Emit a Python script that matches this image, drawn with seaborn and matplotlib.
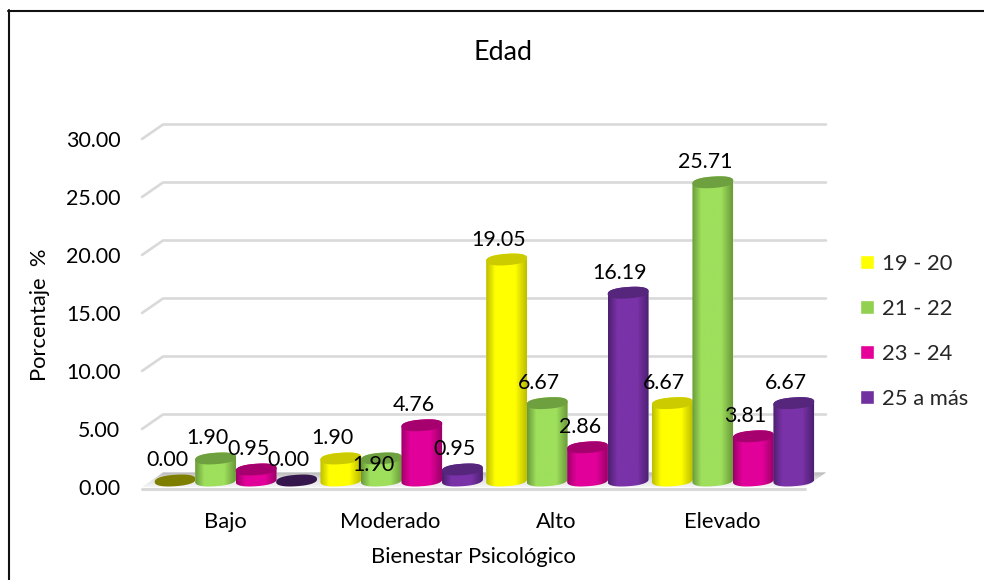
import numpy as np
import pandas as pd
import matplotlib
matplotlib.use("Agg")
import matplotlib.pyplot as plt
import seaborn as sns
from matplotlib.colors import LinearSegmentedColormap, to_rgb
from matplotlib.patches import PathPatch, Polygon
from matplotlib.path import Path
from matplotlib.transforms import ScaledTranslation, IdentityTransform

niveles = ["Bajo", "Moderado", "Alto", "Elevado"]
edades = ["19 - 20", "21 - 22", "23 - 24", "25 a más"]
pct_19_20 = [0.00, 1.90, 19.05, 6.67]
pct_21_22 = [1.90, 1.90, 6.67, 25.71]
pct_23_24 = [0.95, 4.76, 2.86, 3.81]
pct_25_mas = [0.00, 0.95, 16.19, 6.67]
y_ticks = [0, 5, 10, 15, 20, 25, 30]

colores = ["#FFFF00", "#92D050", "#E6009A", "#7030A0"]
# edge shade, centre shade and lid shade of each cylinder
sombra = ["#BDBD00", "#6A9A3A", "#9C0068", "#4C2070"]
centro = ["#FFFF00", "#9EDF5C", "#E2009A", "#7A32A8"]
tapa = ["#CBCB00", "#6FA03F", "#A6006F", "#56257C"]

W, H = 984, 580
DPI = 100
FUENTE = "Lato"
FS_DATOS = 15.4
FS_EJES = 15.8
FS_TITULO = 19.4

sns.set_theme(style="white")
plt.rcParams["font.family"] = [FUENTE, "DejaVu Sans"]

fig = plt.figure(figsize=(W / DPI, H / DPI), dpi=DPI, facecolor="white")


def axes_px(x0, x1, y_top, y_bottom):
    return fig.add_axes([x0 / W, 1 - y_bottom / H, (x1 - x0) / W, (y_bottom - y_top) / H])


# Outer chart frame: only the left and top sides fall on the canvas
for xs, ys in [((9.3, 9.3), (10, 580)), ((8.3, 984), (11, 11))]:
    fig.add_artist(plt.Line2D([x / W for x in xs], [1 - y / H for y in ys], color="#111111", lw=1.5))

# Front plane: value axis, category axis, walls and floor
PX_UNIDAD = 11.6
DX, DY = 21, 14.5
frente = axes_px(142, 805, 487 - 30 * PX_UNIDAD, 487)
frente.set_xlim(-0.5, 3.5)
frente.set_ylim(0, 30)
frente.patch.set_alpha(0)
sns.despine(ax=frente, left=True, bottom=True)
frente.set_yticks(y_ticks, [f"{v:.2f}" for v in y_ticks], fontsize=FS_DATOS, color="black")
frente.set_xticks(range(len(niveles)), niveles, fontsize=FS_EJES, color="black")
frente.tick_params(axis="both", length=0)
frente.tick_params(axis="y", pad=15.5)
frente.tick_params(axis="x", pad=18)
frente.set_xlabel("Bienestar Psicológico", fontsize=FS_EJES, color="black", labelpad=11)
frente.set_ylabel("Porcentaje  %", fontsize=FS_EJES, color="black")
frente.yaxis.set_label_coords((50 - 142) / 663, 0.495)

fondo = frente.transData + ScaledTranslation(DX / DPI, DY / DPI, fig.dpi_scale_trans)
x_lim = frente.get_xlim()
for v in y_ticks[1:]:
    p0 = frente.transData.transform((x_lim[0], v))
    p1 = fondo.transform((x_lim[0], v))
    p2 = fondo.transform((x_lim[1], v))
    frente.add_line(plt.Line2D(*zip(p0, p1, p2), transform=IdentityTransform(),
                               color="#D9D9D9", lw=1.9, clip_on=False, zorder=1))

# Floor as thin strips, with a shadow fading towards the viewer
p_fl = frente.transData.transform((x_lim[0], 0))
p_fr = frente.transData.transform((x_lim[1], 0))
p_bl = fondo.transform((x_lim[0], 0))
p_br = fondo.transform((x_lim[1], 0))
cmap_suelo = LinearSegmentedColormap.from_list(
    "suelo", [(0, "#F6F6F6"), (0.55, "#DADADA"), (1, "#A4A4A4")])
cortes = np.linspace(0, 1, 15)
for t0, t1 in zip(cortes[:-1], cortes[1:]):
    frente.add_patch(Polygon(
        [p_fl + t0 * (p_bl - p_fl), p_fl + t1 * (p_bl - p_fl),
         p_fr + t1 * (p_br - p_fr), p_fr + t0 * (p_br - p_fr)],
        closed=True, transform=IdentityTransform(), facecolor=cmap_suelo((t0 + t1) / 2),
        edgecolor="none", clip_on=False, zorder=1))
frente.add_line(plt.Line2D(*zip(p_fl - [0, 1.5], p_fr - [0, 1.5]), transform=IdentityTransform(),
                           color="#D9D9D9", lw=2.2, clip_on=False, zorder=1.2))

# Cylinders: seaborn lays out the bars, each one is then shaded and capped
cilindros = axes_px(153, 816, 480.5 - 31 * PX_UNIDAD, 480.5 + 2 * PX_UNIDAD)
datos = pd.DataFrame({
    "nivel": niveles * 4,
    "edad": np.repeat(edades, 4),
    "pct": pct_19_20 + pct_21_22 + pct_23_24 + pct_25_mas,
})
sns.barplot(data=datos, x="nivel", y="pct", hue="edad", order=niveles, hue_order=edades,
            palette=colores, saturation=1, width=0.977, gap=0, ax=cilindros)
cilindros.set_xlim(-0.5, 3.5)
cilindros.set_ylim(-2, 31)
cilindros.patch.set_alpha(0)

B = 5.7 / PX_UNIDAD
K = 1.4 / PX_UNIDAD
REDONDEZ = 0.85
EXTRA = 1.01
bajadas = {("Moderado", "21 - 22"): 27}


def onda(u):
    return np.sign(u) * np.abs(u) ** REDONDEZ


def contorno(cx, a, top):
    """Outline of a cylinder standing on y=0, seen slightly from above."""
    t_top = np.linspace(0, np.pi, 40)
    t_bot = np.linspace(np.pi, 2 * np.pi, 40)
    xy_top = np.c_[cx + a * onda(np.cos(t_top)),
                   top + B * onda(np.sin(t_top)) + K * onda(np.cos(t_top))]
    xy_bot = np.c_[cx + a * onda(np.cos(t_bot)),
                   B * onda(np.sin(t_bot)) + K * onda(np.cos(t_bot))]
    return np.r_[xy_top, xy_bot, xy_top[:1]]


def tapa_xy(cx, a, top):
    t = np.linspace(0, 2 * np.pi, 80)
    return np.c_[cx + a * onda(np.cos(t)), top + B * onda(np.sin(t)) + K * onda(np.cos(t))]


for i, (edad, cont) in enumerate(zip(edades, cilindros.containers)):
    cmap = LinearSegmentedColormap.from_list(
        edad, [(0, sombra[i]), (0.22, centro[i]), (0.72, centro[i]), (1, sombra[i])])
    for j, bar in enumerate(cont.patches):
        x0, w, val = bar.get_x(), bar.get_width(), bar.get_height()
        cx = x0 + w / 2
        a = w / 2 * EXTRA
        z = 3 + j * 4 + i * 0.1
        color_tapa = to_rgb(tapa[i])
        if val > 0:
            clip = PathPatch(Path(contorno(cx, a, val)), transform=cilindros.transData)
            bar.set_zorder(z)
            bar.set_clip_path(clip)
            im = cilindros.imshow(np.linspace(0, 1, 64)[None, :], cmap=cmap, aspect="auto",
                                  extent=[cx - a, cx + a, -B - K, val + B + K],
                                  interpolation="bilinear", zorder=z + 0.01)
            im.set_clip_path(clip)
        else:
            # an empty series leaves only a dim disc lying on the floor
            bar.set_visible(False)
            color_tapa = tuple(c * 0.62 for c in color_tapa)
        cilindros.add_patch(Polygon(tapa_xy(cx, a, val), closed=True, facecolor=color_tapa,
                                    edgecolor="none", zorder=z + 0.02))
        baja = bajadas.get((niveles[j], edad), 0)
        cilindros.annotate(f"{val:.2f}", xy=(cx, val), xytext=(-8, 20 - baja),
                           textcoords="offset pixels", ha="center", va="center",
                           fontsize=FS_DATOS, color="black", zorder=100, annotation_clip=False)

cilindros.set_xlim(-0.5, 3.5)
cilindros.set_ylim(-2, 31)
cilindros.set_axis_off()
sns.move_legend(cilindros, loc="upper left", bbox_to_anchor=(840 / W, 1 - 234 / H),
                bbox_transform=fig.transFigure, title=None, frameon=False, fontsize=FS_EJES,
                handlelength=0.64, handleheight=0.64, handletextpad=0.36, labelspacing=1.14)
cilindros.get_legend().set_visible(True)

fig.text(503 / W, 1 - 52 / H, "Edad", ha="center", va="center", fontsize=FS_TITULO, color="black")

fig.savefig("out.png", dpi=DPI)
